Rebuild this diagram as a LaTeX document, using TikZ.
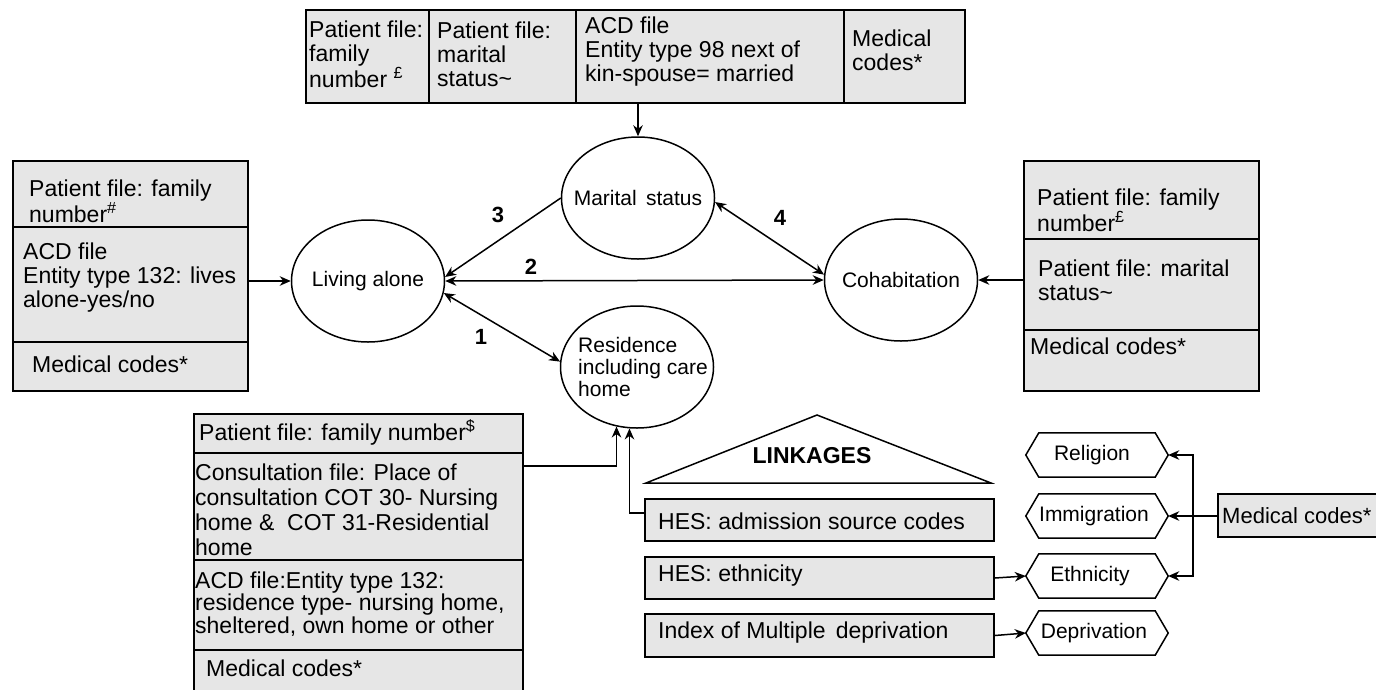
\documentclass[tikz,border=0pt]{standalone}
\usepackage{fontspec}
\setmainfont{Liberation Sans}
\usetikzlibrary{arrows.meta,shapes.geometric}
\definecolor{cellgray}{HTML}{E6E6E6}
\tikzset{
  hd/.tip={Stealth[length=11pt,width=9.5pt,inset=3.5pt]},
  cell/.style={draw=black,line width=1.8pt,fill=cellgray,inner sep=0pt},
  txt/.style={anchor=west,align=left,inner sep=0pt,font=\fontsize{23}{24}\selectfont},
  oval/.style={draw,ellipse,line width=1.5pt,minimum width=153pt,minimum height=122pt,inner sep=0pt},
  ovaltxt/.style={align=left,inner sep=0pt,font=\fontsize{21}{22}\selectfont},
  arr/.style={line width=1.5pt,-hd},
  darr/.style={line width=1.5pt,hd-hd},
  num/.style={inner sep=0pt,font=\fontsize{22}{22}\selectfont\bfseries},
  hexa/.style={minimum width=142pt,minimum height=44pt,inner sep=0pt,font=\fontsize{21}{21}\selectfont},
  hexline/.style={line width=1.5pt},
}
\begin{document}
\begin{tikzpicture}[x=1pt,y=-1pt]
\path[use as bounding box] (0,0) rectangle (1376,689);

% data sources feeding marital status
\node[cell,minimum width=123pt,minimum height=93pt] (c1) at (367.5,56.5) {};
\node[cell,minimum width=147pt,minimum height=93pt] (c2) at (502.5,56.5) {};
\node[cell,minimum width=268pt,minimum height=93pt] (c3) at (710,56.5) {};
\node[cell,minimum width=121pt,minimum height=93pt] (c4) at (904.5,56.5) {};
\node[txt] (c1t) at (309,54) {Patient file:\\family\\number \textsuperscript{£}};
\node[txt] (c2t) at (437,54) {Patient file:\\marital\\status\textasciitilde};
\node[txt] (c3t) at (585,52) {ACD file\\Entity type 98 next of\\kin-spouse= married};
\node[txt] (c4t) at (852,50) {Medical\\codes*};

% data sources feeding living alone
\node[cell,minimum width=235pt,minimum height=66pt] (lb1) at (130.5,194) {};
\node[cell,minimum width=235pt,minimum height=115pt] (lb2) at (130.5,284.5) {};
\node[cell,minimum width=235pt,minimum height=49pt] (lb3) at (130.5,366.5) {};
\node[txt] (lb1t) at (29,201) {Patient file: family\\number\textsuperscript{\#}};
\node[txt] (lb2t) at (23,278) {ACD file\\Entity type 132: lives\\alone-yes/no};
\node[txt] (lb3t) at (32,364) {Medical codes*};

% data sources feeding cohabitation
\node[cell,minimum width=235pt,minimum height=78pt] (rb1) at (1141.5,200) {};
\node[cell,minimum width=235pt,minimum height=91pt] (rb2) at (1141.5,284.5) {};
\node[cell,minimum width=235pt,minimum height=61pt] (rb3) at (1141.5,360.5) {};
\node[txt] (rb1t) at (1037,210) {Patient file: family\\number\textsuperscript{£}};
\node[txt] (rb2t) at (1038,280) {Patient file: marital\\status\textasciitilde};
\node[txt] (rb3t) at (1030,346) {Medical codes*};

% data sources feeding residence
\node[cell,minimum width=329pt,minimum height=39pt] (bl1) at (358.5,433.5) {};
\node[cell,minimum width=329pt,minimum height=107pt] (bl2) at (358.5,506.5) {};
\node[cell,minimum width=329pt,minimum height=90pt] (bl3) at (358.5,605) {};
\node[cell,minimum width=329pt,minimum height=60pt] (bl4) at (358.5,680) {};
\node[txt] (bl1t) at (199,432) {Patient file: family number\textsuperscript{\$}};
\node[txt,font=\fontsize{23}{25}\selectfont] (bl2t) at (195,510) {Consultation file: Place of\\consultation COT 30- Nursing\\home \&\ \ COT 31-Residential\\home};
\node[txt,font=\fontsize{23}{22.5}\selectfont] (bl3t) at (195,604) {ACD file:Entity type 132:\\residence type- nursing home,\\sheltered, own home or other};
\node[txt] (bl4t) at (206,668) {Medical codes*};

% constructs
\node[oval] (ms) at (638,198) {};
\node[ovaltxt] (mst) at (ms) {Marital\ \,status};
\node[oval] (la) at (368,281) {};
\node[ovaltxt] (lat) at (la) {Living alone};
\node[oval] (co) at (901,280) {};
\node[ovaltxt] (cot) at (co) {Cohabitation};
\node[oval] (re) at (637,367) {};
\node[ovaltxt] (ret) at ([xshift=6pt]re.center) {Residence\\including care\\home};

% links between constructs
\draw[arr] (ms.north |- c3.south) -- (ms.north);
\draw[arr] (lb2.east |- la.west) -- (la.west);
\draw[arr] (rb2.west |- co.east) -- (co.east);
\draw[arr] (ms.180) -- (la.3);
\draw[darr] (la.east) -- (co.west);
\draw[darr] (la.-9) -- (re.176);
\draw[darr] (ms.-3) -- (co.176);
\node[num] (n3) at (498,215) {3};
\node[num] (n2) at (531,267) {2};
\node[num] (n1) at (481,337) {1};
\node[num] (n4) at (780,218) {4};

% linkages
\draw[line width=1.5pt] (646,483) -- (817,415) -- (991,483) -- cycle;
\node[inner sep=0pt,font=\fontsize{23}{23}\selectfont\bfseries] (lk) at (812,456) {LINKAGES};
\node[cell,minimum width=349pt,minimum height=42pt] (h1) at (819.5,520) {};
\node[cell,minimum width=349pt,minimum height=42pt] (h2) at (819.5,578) {};
\node[cell,minimum width=349pt,minimum height=43pt] (h3) at (819.5,635.5) {};
\node[txt] (h1t) at (658,521) {HES: admission source codes};
\node[txt] (h2t) at (658,576) {HES: ethnicity};
\node[txt] (h3t) at (658,633) {Index of Multiple\ \,deprivation};

\draw[arr] (bl2.east |- 0,466) -| (re.251);
\draw[arr] ([yshift=7pt]h1.west) -| (re.263);

% derived characteristics
\node[hexa] (rel) at (1097,455) {\hspace*{-10pt}Religion};
\node[hexa] (imm) at (1097,516) {\hspace*{-6pt}Immigration};
\node[hexa] (eth) at (1097,576) {\hspace*{-14pt}Ethnicity};
\node[hexa] (dep) at (1097,633) {\hspace*{-6pt}Deprivation};
\foreach \h in {rel,imm,eth,dep}{
  \draw[hexline] ([xshift=13pt]\h.north west) -- ([xshift=-13pt]\h.north east) -- (\h.east)
    -- ([xshift=-13pt]\h.south east) -- ([xshift=13pt]\h.south west) -- (\h.west) -- cycle;
}
\node[cell,minimum width=172pt,minimum height=43pt] (mc) at (1304,515.5) {};
\node[txt,font=\fontsize{22}{22}\selectfont] (mct) at (1222,516) {Medical codes*};
\coordinate (j) at (1193,516);

\draw[arr] (mc.west |- imm.east) -- (imm.east);
\draw[hd-hd,line width=1.5pt] (rel.east) -| (j) |- (eth.east);
\draw[arr] (h2.east) -- (eth.west);
\draw[arr] (h3.east) -- (dep.west);
\end{tikzpicture}
\end{document}
